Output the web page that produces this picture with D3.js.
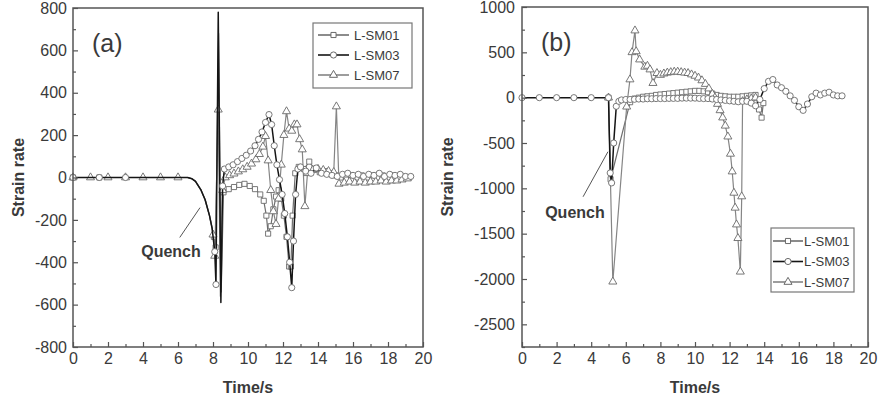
<!DOCTYPE html>
<html>
<head>
<meta charset="utf-8">
<script src="https://cdn.jsdelivr.net/npm/d3@7"></script>
<style>
  body { margin: 0; background: #fff; }
  svg { display: block; font-family: "Liberation Sans", Arial, sans-serif; }
</style>
</head>
<body>
<svg id="chart" width="893" height="395"></svg>
<script>
// ---- data ----
const seriesNames = ["L-SM01", "L-SM03", "L-SM07"];
const timeTicks = [0, 2, 4, 6, 8, 10, 12, 14, 16, 18, 20];
const aRateTicks = [-800, -600, -400, -200, 0, 200, 400, 600, 800];
const bRateTicks = [-2500, -2000, -1500, -1000, -500, 0, 500, 1000];

// panel (a)
const a01Time = [0, 1.5, 8.05, 8.15, 8.6, 8.9, 9.2, 9.5, 9.8, 10.1, 10.4, 10.7, 10.9, 11.05, 11.15, 11.3, 11.45, 11.6, 11.75, 11.9, 12.05, 12.2, 12.35, 12.45, 12.55, 12.7, 12.9, 13.2, 13.5, 13.8, 14.1, 14.4, 14.7, 15.0, 15.3, 15.6, 15.9, 16.2, 16.5, 16.8, 17.1, 17.4, 17.7, 18.0, 18.3, 18.6, 18.9, 19.2];
const a01Rate = [0, 0, -280, -330, -70, -55, -45, -35, -30, -40, -55, -80, -110, -180, -265, -230, -150, -90, -60, -100, -180, -280, -420, -420, -180, 20, 50, 40, 75, 40, 25, 30, 20, 10, 0, -10, 10, 0, 10, 0, 10, 0, 10, 0, 10, 0, 5, 0];
const a01SpikeTime = [8.32, 8.47];
const a01SpikeRate = [680, -540];

const a03Time = [0, 1.5, 3, 8.1, 8.17, 8.55, 8.65, 8.9, 9.15, 9.4, 9.65, 9.9, 10.15, 10.4, 10.6, 10.8, 11.0, 11.2, 11.35, 11.5, 11.65, 11.8, 11.95, 12.1, 12.25, 12.38, 12.5, 12.6, 12.72, 12.85, 13.0, 13.3, 13.6, 13.9, 14.2, 14.5, 14.8, 15.1, 15.4, 15.7, 16.0, 16.3, 16.6, 16.9, 17.2, 17.5, 17.8, 18.1, 18.4, 18.7, 19.0, 19.3];
const a03Rate = [0, 0, 0, -350, -505, -40, 40, 50, 60, 75, 90, 105, 125, 150, 180, 215, 260, 297, 250, 150, 60, -10, -80, -170, -280, -400, -520, -300, -80, 40, 50, 30, 20, 45, 20, 15, 10, 5, 15, 20, 10, 15, 5, 15, 10, 20, 5, 15, 10, 15, 5, 5];
const a03SpikeTime = [8.3, 8.45];
const a03SpikeRate = [780, -590];

const a07Time = [0, 1, 2, 3, 4, 5, 6, 8.0, 8.1, 8.3, 8.55, 8.7, 8.95, 9.2, 9.45, 9.7, 9.95, 10.2, 10.45, 10.65, 10.85, 11.0, 11.15, 11.3, 11.45, 11.6, 11.75, 11.9, 12.05, 12.2, 12.35, 12.5, 12.65, 12.8, 12.95, 13.1, 13.25, 13.4, 13.7, 14.0, 14.3, 14.6, 14.9, 15.05, 15.2, 15.5, 15.8, 16.1, 16.4, 16.7, 17.0, 17.3, 17.6, 17.9, 18.2, 18.5, 18.8, 19.1];
const a07Rate = [0, 0, 0, 0, 0, 0, 0, -270, -370, 320, -60, 0, 10, 18, 28, 38, 50, 65, 85, 110, 145, 195, 80, -60, -160, -220, -100, 60, 200, 312, 230, 220, 250, 250, 180, 132, -136, 20, 35, 40, 35, 30, 25, 335, -30, -25, -20, -25, -20, -25, -20, -20, -15, -20, -15, -15, -10, -5];
const a07SpikeTime = [8.42];
const a07SpikeRate = [-560];

// the quench curve of (a) is recorded without symbols, shared by all three runs
const aQuenchTime = [6.55, 6.8, 7.0, 7.3, 7.55, 7.8, 7.95];
const aQuenchRate = [0, -6, -18, -57, -105, -180, -240];

// panel (b)
const b01Time = [5.0, 5.12, 6.25, 6.5, 6.75, 7.0, 7.25, 7.5, 7.75, 8.0, 8.25, 8.5, 8.75, 9.0, 9.25, 9.5, 9.75, 10.0, 10.25, 10.5, 10.75, 11.0, 11.25, 11.5, 11.75, 12.0, 12.25, 12.5, 12.75, 13.0, 13.25, 13.5, 13.7, 13.85, 13.95];
const b01Rate = [0, -900, -50, -10, 0, 10, 15, 20, 30, 35, 40, 45, 50, 55, 60, 65, 70, 75, 75, 70, 60, 45, 30, 20, 15, 10, 10, 10, 15, 20, 25, 30, -130, -220, -60];

const b03Time = [0, 1, 2, 3, 4, 5, 5.1, 5.18, 5.3, 5.45, 5.6, 5.75, 6, 6.25, 6.5, 6.75, 7, 7.25, 7.5, 7.75, 8, 8.25, 8.5, 8.75, 9, 9.25, 9.5, 9.75, 10, 10.25, 10.5, 10.75, 11, 11.25, 11.5, 11.75, 12, 12.25, 12.5, 12.75, 13.0, 13.25, 13.5, 13.75, 14.0, 14.25, 14.5, 14.75, 15.0, 15.25, 15.5, 15.75, 16.0, 16.25, 16.5, 16.75, 17.0, 17.25, 17.5, 17.75, 18.0, 18.25, 18.5];
const b03Rate = [0, 0, 0, 0, 0, 0, -830, -940, -500, -95, -40, -25, -20, -20, -18, -15, -15, -12, -12, -10, -10, -10, -8, -8, -8, -5, -5, -5, -5, -8, -10, -10, -15, -20, -25, -30, -35, -40, -45, -40, -40, -60, -90, -20, 100, 180, 200, 140, 110, 70, 20, -30, -100, -140, -70, 10, 50, 30, 50, 60, 30, 20, 20];

const b07Time = [5.0, 5.25, 6.05, 6.24, 6.36, 6.53, 6.6, 6.8, 7.1, 7.25, 7.4, 7.57, 7.8, 8.0, 8.2, 8.4, 8.6, 8.8, 9.0, 9.2, 9.4, 9.6, 9.8, 10.0, 10.2, 10.4, 10.6, 10.8, 11.0, 11.15, 11.3, 11.45, 11.6, 11.75, 11.9, 12.05, 12.15, 12.25, 12.32, 12.4, 12.48, 12.62, 12.7, 12.75, 13.0, 13.25, 13.5];
const b07Rate = [0, -2030, -100, 200, 500, 740, 510, 420, 340, 350, 310, 160, 270, 250, 265, 275, 280, 285, 285, 280, 275, 270, 255, 240, 220, 190, 150, 100, 40, 0, -70, -140, -220, -310, -430, -620, -815, -1050, -1215, -1400, -1550, -1920, -1090, -40, -20, -10, 0];

// ---- drawing ----
const svg = d3.select("#chart");

const styles = {
  "L-SM01": { shape: d3.symbolSquare, size: 26, color: "#6f6f6f", width: 1.2 },
  "L-SM03": { shape: d3.symbolCircle, size: 30, color: "#151515", width: 1.5 },
  "L-SM07": { shape: d3.symbolTriangle, size: 28, color: "#858585", width: 1.2 },
};
const markerStroke = "#6a6a6a";
const axisColor = "#555";
const textColor = "#3a3a3a";

const pairs = (ts, vs) => (ts || []).map((t, i) => [t, vs[i]]);

function drawPanel(p) {
  const g = svg.append("g");
  const x = d3.scaleLinear().domain([0, 20]).range([p.left, p.right]);
  const y = d3.scaleLinear().domain(p.yDomain).range([p.bottom, p.top]);
  const line = d3.line().x((d) => x(d[0])).y((d) => y(d[1]));

  // series: marked samples plus line-only samples
  p.series.forEach((s) => {
    const st = styles[s.name];
    const pts = pairs(s.time, s.rate);
    const bare = pairs(s.bareTime, s.bareRate);
    if (p.quench) bare.push(...pairs(p.quench.time, p.quench.rate));
    const path = pts.concat(bare).sort((a, b) => a[0] - b[0]);
    g.append("path")
      .attr("d", line(path))
      .attr("fill", "none")
      .attr("stroke", st.color)
      .attr("stroke-width", st.width)
      .attr("stroke-linejoin", "round");
    g.append("g")
      .selectAll("path")
      .data(pts)
      .join("path")
      .attr("transform", (d) => `translate(${x(d[0])},${y(d[1])})`)
      .attr("d", d3.symbol(st.shape, st.size))
      .attr("fill", "#fff")
      .attr("stroke", markerStroke)
      .attr("stroke-width", 0.9);
  });

  // axes (ticks point inward)
  const styleAxis = (a) => {
    a.select(".domain").remove();
    a.selectAll(".tick line").attr("stroke", axisColor).attr("stroke-width", 1.2);
    a.selectAll(".tick text")
      .attr("fill", textColor)
      .style("font-size", "16px")
      .style("font-family", '"Liberation Sans", Arial, sans-serif');
  };
  const plain = (d) => String(d);
  g.append("g")
    .attr("transform", `translate(0,${p.bottom})`)
    .call(d3.axisBottom(x).tickValues(d3.range(1, 20, 2)).tickSize(-3).tickFormat(""))
    .call(styleAxis);
  g.append("g")
    .attr("transform", `translate(0,${p.bottom})`)
    .call(d3.axisBottom(x).tickValues(timeTicks).tickSize(-5).tickPadding(6).tickFormat(plain))
    .call(styleAxis);
  g.append("g")
    .attr("transform", `translate(${p.left},0)`)
    .call(d3.axisLeft(y).tickValues(p.yMinor).tickSize(-3).tickFormat(""))
    .call(styleAxis);
  g.append("g")
    .attr("transform", `translate(${p.left},0)`)
    .call(d3.axisLeft(y).tickValues(p.yTicks).tickSize(-5).tickPadding(p.yPad).tickFormat(plain))
    .call(styleAxis);

  // frame
  g.append("rect")
    .attr("x", p.left)
    .attr("y", p.top)
    .attr("width", p.right - p.left)
    .attr("height", p.bottom - p.top)
    .attr("fill", "none")
    .attr("stroke", axisColor)
    .attr("stroke-width", 1.5);

  // axis titles
  g.append("text")
    .attr("x", (p.left + p.right) / 2)
    .attr("y", 393)
    .attr("text-anchor", "middle")
    .attr("font-weight", "bold")
    .attr("font-size", 16)
    .attr("fill", textColor)
    .text("Time/s");
  g.append("text")
    .attr("transform", `translate(${p.titleX},${(p.top + p.bottom) / 2}) rotate(-90)`)
    .attr("text-anchor", "middle")
    .attr("font-weight", "bold")
    .attr("font-size", 16)
    .attr("fill", textColor)
    .text("Strain rate");

  // panel tag
  g.append("text")
    .attr("x", p.left + p.tagDx)
    .attr("y", p.top + 44)
    .attr("font-size", 25)
    .attr("fill", textColor)
    .text(p.tag);

  // quench annotation
  const n = p.note;
  g.append("line")
    .attr("x1", x(n.from[0]))
    .attr("y1", y(n.from[1]))
    .attr("x2", x(n.to[0]))
    .attr("y2", y(n.to[1]))
    .attr("stroke", "#555")
    .attr("stroke-width", 1);
  g.append("text")
    .attr("x", x(n.text[0]))
    .attr("y", y(n.text[1]))
    .attr("dy", "0.35em")
    .attr("text-anchor", "middle")
    .attr("font-weight", "bold")
    .attr("font-size", 16)
    .attr("fill", textColor)
    .text("Quench");

  // legend
  const L = p.legend;
  const lg = g.append("g").attr("transform", `translate(${L.x},${L.y})`);
  lg.append("rect")
    .attr("width", L.w)
    .attr("height", L.h)
    .attr("fill", "#fff")
    .attr("stroke", "#777")
    .attr("stroke-width", 1.2);
  seriesNames.forEach((name, i) => {
    const st = styles[name];
    const row = lg.append("g").attr("transform", `translate(0,${L.row0 + i * L.step})`);
    row.append("line")
      .attr("x1", L.lineX0)
      .attr("x2", L.lineX1)
      .attr("stroke", st.color)
      .attr("stroke-width", 1.6);
    row.append("path")
      .attr("transform", `translate(${(L.lineX0 + L.lineX1) / 2},0)`)
      .attr("d", d3.symbol(st.shape, st.size))
      .attr("fill", "#fff")
      .attr("stroke", markerStroke);
    row.append("text")
      .attr("x", L.textX)
      .attr("dy", "0.35em")
      .attr("font-size", 13)
      .attr("fill", textColor)
      .text(name);
  });
}

drawPanel({
  left: 73, right: 423, top: 8, bottom: 347,
  yDomain: [-800, 800],
  yTicks: aRateTicks,
  yMinor: d3.range(-700, 800, 200),
  yPad: 6,
  titleX: 24,
  tag: "(a)",
  tagDx: 19,
  quench: { time: aQuenchTime, rate: aQuenchRate },
  series: [
    { name: "L-SM01", time: a01Time, rate: a01Rate, bareTime: a01SpikeTime, bareRate: a01SpikeRate },
    { name: "L-SM07", time: a07Time, rate: a07Rate, bareTime: a07SpikeTime, bareRate: a07SpikeRate },
    { name: "L-SM03", time: a03Time, rate: a03Rate, bareTime: a03SpikeTime, bareRate: a03SpikeRate },
  ],
  note: { from: [6.1, -283], to: [7.26, -142], text: [5.6, -349] },
  legend: { x: 313, y: 23, w: 99, h: 65, row0: 12, step: 20, lineX0: 5, lineX1: 36, textX: 41 },
});

drawPanel({
  left: 522, right: 868, top: 7, bottom: 347,
  yDomain: [-2750, 1000],
  yTicks: bRateTicks,
  yMinor: d3.range(-2750, 1000, 500),
  yPad: 7,
  titleX: 453,
  tag: "(b)",
  tagDx: 19,
  series: [
    { name: "L-SM01", time: b01Time, rate: b01Rate },
    { name: "L-SM07", time: b07Time, rate: b07Rate },
    { name: "L-SM03", time: b03Time, rate: b03Rate },
  ],
  note: { from: [3.53, -1093], to: [4.97, -596], text: [3.06, -1270] },
  legend: { x: 771, y: 228, w: 83, h: 64, row0: 13, step: 20.5, lineX0: 2, lineX1: 32, textX: 33 },
});
</script>
</body>
</html>
